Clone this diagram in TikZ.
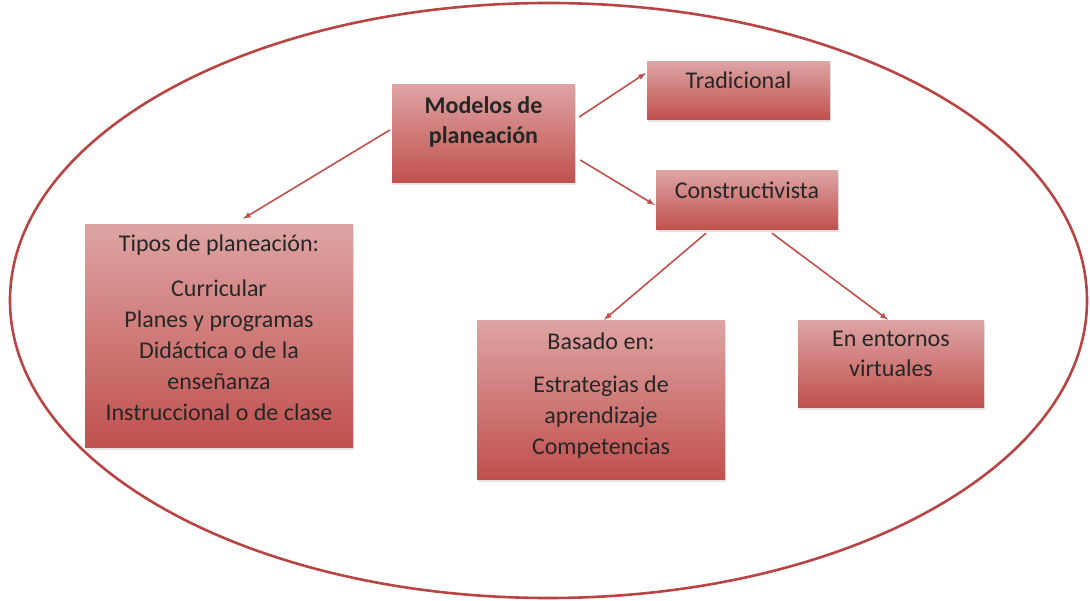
\documentclass[tikz,border=0pt]{standalone}
\usepackage{fontspec}
\setmainfont{Carlito}
\usetikzlibrary{shadows}

\definecolor{rosaclaro}{RGB}{221,164,163}
\definecolor{rojobase}{RGB}{192,80,77}
\definecolor{rojoborde}{RGB}{184,68,68}

\tikzset{
  caja/.style={rectangle, inner sep=0pt, top color=rosaclaro, bottom color=rojobase,
    drop shadow={shadow xshift=1pt, shadow yshift=-2.5pt, fill=black!20}},
  texto/.style={align=center, font=\fontsize{24}{31}\selectfont, text=black!85},
  flecha/.style={-latex, line width=1.6pt, color=rojobase}
}

\begin{document}
\begin{tikzpicture}[x=1pt, y=-1pt]
    \useasboundingbox (0,0) rectangle (1090,601);
    % Contorno
    \draw[line width=2.6pt, rojoborde] (548.5,300.5) ellipse [x radius=538.5, y radius=297.5];
    % Cajas
    \node at (483.5,134) [caja, minimum width=183pt, minimum height=98pt] (modelos) {};
    \node at (738.5,91) [caja, minimum width=183pt, minimum height=58pt] (tradicional) {};
    \node at (747,200.5) [caja, minimum width=182pt, minimum height=59pt] (constructivista) {};
    \node at (219,336.5) [caja, minimum width=268pt, minimum height=223pt] (tipos) {};
    \node at (601,400) [caja, minimum width=248pt, minimum height=158pt] (basado) {};
    \node at (891,364.5) [caja, minimum width=186pt, minimum height=87pt] (entornos) {};
    % Textos
    \node at (483.5,122) [texto, font=\fontsize{24}{30}\selectfont\bfseries] (modelos-t) {Modelos de\\planeación};
    \node at (738.5,80) [texto] (tradicional-t) {Tradicional};
    \node at (747,190) [texto] (constructivista-t) {Constructivista};
    \node at (219,327.5) [texto] (tipos-t) {Tipos de planeación:\\[14pt]Curricular\\Planes y programas\\Didáctica o de la\\enseñanza\\Instruccional o de clase};
    \node at (601,396) [texto] (basado-t) {Basado en:\\[12pt]Estrategias de\\aprendizaje\\Competencias};
    \node at (891,353.5) [texto, font=\fontsize{24}{30}\selectfont] (entornos-t) {En entornos\\virtuales};
    % Flechas
    \draw[flecha] ([shift={(4,-17)}]modelos.east) -- ([shift={(-1,-18)}]tradicional.west);
    \draw[flecha] ([shift={(5,26)}]modelos.east) -- ([shift={(-1,4.5)}]constructivista.west);
    \draw[flecha] ([shift={(-2,-4)}]modelos.west) -- ([shift={(24,-6)}]tipos.north);
    \draw[flecha] ([shift={(-41,3)}]constructivista.south) -- ([shift={(3,-1)}]basado.north);
    \draw[flecha] ([shift={(25,3)}]constructivista.south) -- ([shift={(-3,-1)}]entornos.north);
\end{tikzpicture}
\end{document}
